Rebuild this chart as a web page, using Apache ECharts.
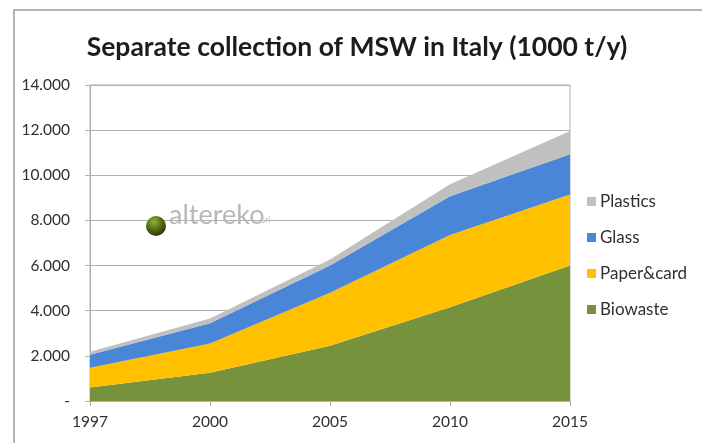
<!DOCTYPE html>
<html>
<head>
<meta charset="utf-8">
<script src="https://cdn.jsdelivr.net/npm/echarts@6/dist/echarts.min.js"></script>
<style>
  html, body { margin: 0; padding: 0; background: #ffffff; }
  #chart { width: 702px; height: 443px; }
</style>
</head>
<body>
<div id="chart"></div>
<script>
// Separate collection of municipal solid waste in Italy, thousand tonnes per year
const years = ['1997', '2000', '2005', '2010', '2015'];
const biowaste = [600, 1250, 2450, 4150, 6000];
const paperCard = [870, 1300, 2350, 3200, 3150];
const glass = [580, 900, 1200, 1720, 1780];
const plastics = [130, 200, 270, 530, 1030];
const yTicks = [0, 2000, 4000, 6000, 8000, 10000, 12000, 14000];

const colors = {
  Biowaste: '#76923c',
  'Paper&card': '#ffc000',
  Glass: '#4a86d8',
  Plastics: '#c0c0c0'
};

const font = 'Lato, "Open Sans", sans-serif';

function fmtThousands(v) {
  if (v === 0) return '-';
  return String(v).replace(/\B(?=(\d{3})+(?!\d))/g, '.');
}

function areaSeries(name, data) {
  return {
    name: name,
    type: 'line',
    stack: 'total',
    data: data,
    symbol: 'none',
    lineStyle: { width: 0 },
    areaStyle: { color: colors[name], opacity: 1 },
    itemStyle: { color: colors[name] },
    emphasis: { disabled: true }
  };
}

const chart = echarts.init(document.getElementById('chart'));
chart.setOption({
  animation: false,
  backgroundColor: '#ffffff',
  textStyle: { fontFamily: font },
  title: {
    text: 'Separate collection of MSW in Italy (1000 t/y)',
    left: 352,
    textAlign: 'center',
    top: 29,
    textStyle: { fontFamily: font, fontSize: 26.5, fontWeight: 'bold', color: '#1c1c1c' }
  },
  graphic: [
    // outer frame of the chart card
    { type: 'polyline', shape: { points: [[14, 443], [14, 10], [702, 10]] },
      style: { stroke: '#9a9a9a', lineWidth: 1.5, fill: null }, z: 0 },
    // altereko logo
    { type: 'circle', shape: { cx: 156, cy: 226, r: 10 },
      style: { fill: { type: 'radial', x: 0.4, y: 0.3, r: 0.75,
        colorStops: [{ offset: 0, color: '#8fb23a' }, { offset: 0.55, color: '#4d6a12' }, { offset: 1, color: '#3a2410' }] } }, z: 1 },
    { type: 'text', left: 169, top: 202,
      style: { text: 'altereko', fontFamily: font, fontSize: 27, fill: '#b8b8b8' }, z: 1 },
    { type: 'text', left: 261, top: 216,
      style: { text: 'srl', fontFamily: font, fontSize: 9, fill: '#c4c4c4' }, z: 1 }
  ],
  legend: {
    data: ['Plastics', 'Glass', 'Paper&card', 'Biowaste'],
    orient: 'vertical',
    left: 582,
    top: 188,
    icon: 'rect',
    itemWidth: 9,
    itemHeight: 9,
    itemGap: 19,
    textStyle: { fontFamily: font, fontSize: 17, color: '#303030', padding: [0, 0, 0, -1] }
  },
  grid: {
    left: 90,
    right: 132,
    top: 85,
    bottom: 42,
    show: true,
    borderColor: '#b0b0b0',
    borderWidth: 1
  },
  xAxis: {
    type: 'category',
    data: years,
    boundaryGap: false,
    axisLine: { lineStyle: { color: '#b0b0b0' } },
    axisTick: { show: true, length: 5, lineStyle: { color: '#b0b0b0' } },
    axisLabel: { fontFamily: font, fontSize: 15.5, color: '#303030', margin: 13 }
  },
  yAxis: {
    type: 'value',
    min: yTicks[0],
    max: yTicks[yTicks.length - 1],
    interval: 2000,
    axisLine: { show: true, lineStyle: { color: '#b0b0b0' } },
    axisTick: { show: true, length: 5, lineStyle: { color: '#b0b0b0' } },
    splitLine: { lineStyle: { color: '#b0b0b0' } },
    axisLabel: { fontFamily: font, fontSize: 15.5, color: '#303030', margin: 20, formatter: fmtThousands }
  },
  series: [
    areaSeries('Biowaste', biowaste),
    areaSeries('Paper&card', paperCard),
    areaSeries('Glass', glass),
    areaSeries('Plastics', plastics)
  ]
});
</script>
</body>
</html>
